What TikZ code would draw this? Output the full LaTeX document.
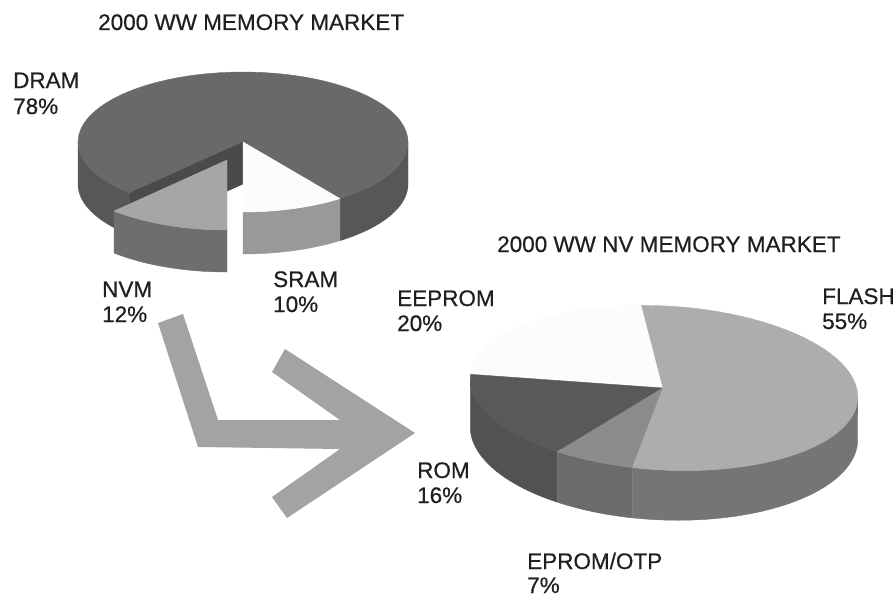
\documentclass[tikz,border=0pt]{standalone}
\usepackage{fontspec}
\setmainfont{Liberation Sans}[FakeBold=0.5]
\definecolor{txtgray}{gray}{0.12}
\definecolor{dramtop}{gray}{0.41}
\definecolor{dramside}{gray}{0.34}
\definecolor{dramcut}{gray}{0.29}
\definecolor{nvmtop}{gray}{0.65}
\definecolor{nvmside}{gray}{0.43}
\definecolor{sramtop}{gray}{0.99}
\definecolor{sramside}{gray}{0.60}
\definecolor{eepromtop}{gray}{0.99}
\definecolor{flashtop}{gray}{0.68}
\definecolor{flashside}{gray}{0.46}
\definecolor{romtop}{gray}{0.35}
\definecolor{romside}{gray}{0.32}
\definecolor{epromtop}{gray}{0.55}
\definecolor{epromside}{gray}{0.42}
\definecolor{arrowgray}{gray}{0.64}
\begin{document}
\begin{tikzpicture}[x=1pt,y=-1pt,
  declare function={
    tx(\t)=243+165*cos(\t);
    ty(\t)=142-70*sin(\t);
    bx(\t)=664+194*cos(\t)*0.99844+82*sin(\t)*0.05582;
    by(\t)=388+194*cos(\t)*0.05582-82*sin(\t)*0.99844;
    bd(\t)=45-5*sin(\t)-2.5*cos(\t);
  },
  lbl/.style={anchor=base west, inner sep=0pt,
    font=\fontsize{22.5}{25}\selectfont, text=txtgray},
  face/.style={fill=#1, draw=#1, line width=0.4pt, line join=round},
  ts/.style={samples=60}]
\useasboundingbox (0,0) rectangle (895,597);
\fill[white] (0,0) rectangle (895,597);

% ---- total memory market pie ----
% DRAM outer wall (right and left visible parts)
\path[face=dramside] plot[ts,domain=-54:0] ({tx(\x)},{ty(\x)})
  -- plot[ts,domain=0:-54] ({tx(\x)},{ty(\x)+42}) -- cycle;
\path[face=dramside] plot[ts,domain=180:226.8] ({tx(\x)},{ty(\x)})
  -- plot[ts,domain=226.8:180] ({tx(\x)},{ty(\x)+42}) -- cycle;
% DRAM top
\path[face=dramtop] (243,142) -- plot[ts,domain=-54:226.8] ({tx(\x)},{ty(\x)}) -- cycle;
% DRAM cut face left open by the pulled-out NVM slice
\path[face=dramcut] (243,142) -- ({tx(226.8)},{ty(226.8)})
  -- ({tx(226.8)},{ty(226.8)+42}) -- (243,184) -- cycle;
% SRAM slice
\path[face=sramside] plot[ts,domain=-90:-54] ({tx(\x)},{ty(\x)})
  -- plot[ts,domain=-54:-90] ({tx(\x)},{ty(\x)+42}) -- cycle;
\path[face=sramtop] (243,142) -- plot[ts,domain=-90:-54] ({tx(\x)},{ty(\x)}) -- cycle;
% NVM slice, pulled out
\begin{scope}[shift={(-16,18)}]
  \path[face=nvmside] plot[ts,domain=226.8:270] ({tx(\x)},{ty(\x)})
    -- plot[ts,domain=270:226.8] ({tx(\x)},{ty(\x)+42}) -- cycle;
  \path[face=nvmtop] (243,142) -- plot[ts,domain=226.8:270] ({tx(\x)},{ty(\x)}) -- cycle;
\end{scope}

% ---- non-volatile memory market pie ----
\path[face=romside] plot[ts,domain=181.35:238] ({bx(\x)},{by(\x)})
  -- plot[ts,domain=238:181.35] ({bx(\x)},{by(\x)+bd(\x)}) -- cycle;
\path[face=epromside] plot[ts,domain=238:262] ({bx(\x)},{by(\x)})
  -- plot[ts,domain=262:238] ({bx(\x)},{by(\x)+bd(\x)}) -- cycle;
\path[face=flashside] plot[ts,domain=262:361.35] ({bx(\x)},{by(\x)})
  -- plot[ts,domain=361.35:262] ({bx(\x)},{by(\x)+bd(\x)}) -- cycle;
\path[face=eepromtop] (663,388) -- plot[ts,domain=98:178] ({bx(\x)},{by(\x)}) -- cycle;
\path[face=romtop] (663,388) -- plot[ts,domain=178:238] ({bx(\x)},{by(\x)}) -- cycle;
\path[face=epromtop] (663,388) -- plot[ts,domain=238:262] ({bx(\x)},{by(\x)}) -- cycle;
\path[face=flashtop] (663,388) -- plot[ts,domain=262:458] ({bx(\x)},{by(\x)}) -- cycle;

% ---- bent block arrow from NVM to the second pie ----
\fill[arrowgray] (158,323) -- (183,314) -- (218,420) -- (340,420) -- (272,372)
  -- (285,349) -- (415,433) -- (287,518) -- (272,497) -- (340,449)
  -- (198,447) -- cycle;

% ---- titles and labels ----
\node[lbl] (title1) at (98,30) {2000 WW MEMORY MARKET};
\node[lbl] (title2) at (497,252) {2000 WW NV MEMORY MARKET};
\node[lbl] (dram) at (13,88) {DRAM};
\node[lbl] (drampct) at (13,114) {78\%};
\node[lbl] (nvm) at (102,297) {NVM};
\node[lbl] (nvmpct) at (102,322) {12\%};
\node[lbl] (sram) at (273,287) {SRAM};
\node[lbl] (srampct) at (273,312) {10\%};
\node[lbl] (eeprom) at (397,306) {EEPROM};
\node[lbl] (eeprompct) at (397,331) {20\%};
\node[lbl] (flash) at (822,304) {FLASH};
\node[lbl] (flashpct) at (822,329) {55\%};
\node[lbl] (rom) at (417,478) {ROM};
\node[lbl] (rompct) at (417,503) {16\%};
\node[lbl] (eprom) at (527,569) {EPROM/OTP};
\node[lbl] (eprompct) at (527,593) {7\%};
\end{tikzpicture}
\end{document}
